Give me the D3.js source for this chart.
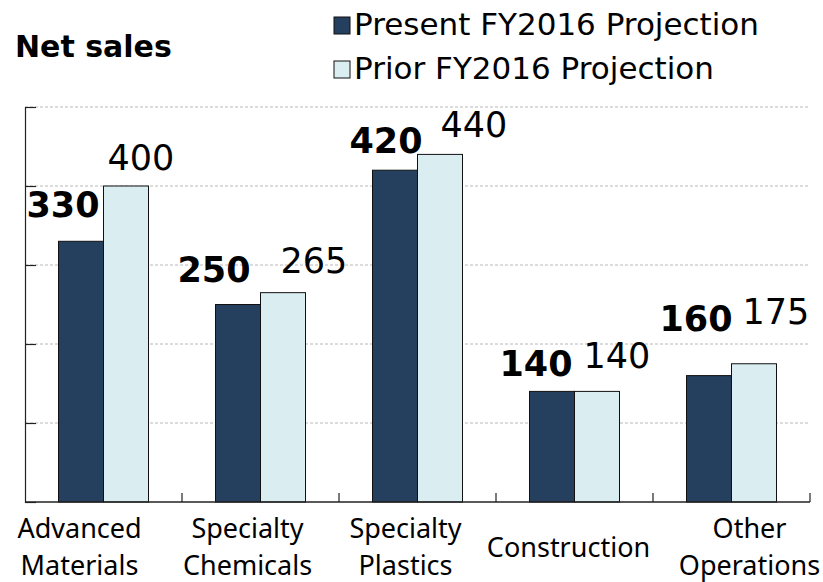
<!DOCTYPE html>
<html>
<head>
<meta charset="utf-8">
<script src="https://cdn.jsdelivr.net/npm/d3@7"></script>
<style>
  body { margin: 0; background: #fff; }
  svg { display: block; }
</style>
</head>
<body>
<svg id="chart" width="823" height="582"></svg>
<script>
// Data
const categories = [
  ['Advanced', 'Materials'],
  ['Specialty', 'Chemicals'],
  ['Specialty', 'Plastics'],
  ['Construction'],
  ['Other', 'Operations']
];
const presentValues = [330, 250, 420, 140, 160];
const priorValues = [400, 265, 440, 140, 175];
const seriesNames = ['Present FY2016 Projection', 'Prior FY2016 Projection'];
const yTicks = [0, 100, 200, 300, 400, 500];

// layout tweaks (label nudges as in the original slide)
const presentLabelShift = [[-4, -24], [-10, -23], [5, -17], [-2, -15], [1, -45]];
const priorLabelShift = [[4, -16], [20, -20], [23, -17], [9, -23], [11, -40]];
const catLabelShift = [-24, -13, -12, -6, 18];

const DARK = '#253f5f', LIGHT = '#daeef2';
const BAR_W = 45;

let svg = d3.select('#chart');

let xScale = d3.scaleBand()
  .domain(d3.range(categories.length))
  .range([25, 810])
  .padding(0);
let yScale = d3.scaleLinear()
  .domain([0, 500])
  .range([502, 107]);

// gridlines
svg.append('g')
  .selectAll('line')
  .data(yTicks.slice(1))
  .enter()
  .append('line')
  .attr('x1', 25)
  .attr('x2', 810)
  .attr('y1', d => yScale(d))
  .attr('y2', d => yScale(d))
  .attr('stroke', '#b8b8b8')
  .attr('stroke-width', 1)
  .attr('stroke-dasharray', '3,2');

// y axis (no labels, inner ticks)
svg.append('g')
  .attr('transform', 'translate(25,0)')
  .call(d3.axisRight(yScale).tickValues(yTicks).tickSize(11).tickFormat(''))
  .call(g => g.select('.domain').attr('stroke', '#222').attr('stroke-width', 1.2))
  .call(g => g.selectAll('.tick line').attr('stroke', '#222').attr('stroke-width', 1.2));

// bars
const cx = i => xScale(i) + xScale.bandwidth() / 2;

svg.append('g')
  .selectAll('rect')
  .data(presentValues)
  .enter()
  .append('rect')
  .attr('x', (d, i) => cx(i) - BAR_W)
  .attr('y', d => yScale(d))
  .attr('width', BAR_W)
  .attr('height', d => yScale(0) - yScale(d))
  .attr('fill', DARK)
  .attr('stroke', '#111')
  .attr('stroke-width', 1);

svg.append('g')
  .selectAll('rect')
  .data(priorValues)
  .enter()
  .append('rect')
  .attr('x', (d, i) => cx(i))
  .attr('y', d => yScale(d))
  .attr('width', BAR_W)
  .attr('height', d => yScale(0) - yScale(d))
  .attr('fill', LIGHT)
  .attr('stroke', '#111')
  .attr('stroke-width', 1);

// x axis (ticks between categories, pointing up)
svg.append('line')
  .attr('x1', 25).attr('x2', 810)
  .attr('y1', yScale(0)).attr('y2', yScale(0))
  .attr('stroke', '#222').attr('stroke-width', 1.5);
svg.append('g')
  .selectAll('line')
  .data(d3.range(1, categories.length + 1))
  .enter()
  .append('line')
  .attr('x1', i => xScale.step() * i + 25)
  .attr('x2', i => xScale.step() * i + 25)
  .attr('y1', yScale(0))
  .attr('y2', yScale(0) - 9)
  .attr('stroke', '#222')
  .attr('stroke-width', 1.2);

// value labels
svg.append('g')
  .selectAll('text')
  .data(presentValues)
  .enter()
  .append('text')
  .attr('x', (d, i) => cx(i) + presentLabelShift[i][0])
  .attr('y', (d, i) => yScale(d) + presentLabelShift[i][1])
  .attr('text-anchor', 'end')
  .attr('font-family', 'DejaVu Sans, Verdana, sans-serif')
  .attr('font-weight', 'bold')
  .attr('font-size', 35)
  .attr('fill', '#000')
  .text(d => d);

svg.append('g')
  .selectAll('text')
  .data(priorValues)
  .enter()
  .append('text')
  .attr('x', (d, i) => cx(i) + priorLabelShift[i][0])
  .attr('y', (d, i) => yScale(d) + priorLabelShift[i][1])
  .attr('text-anchor', 'start')
  .attr('font-family', 'DejaVu Sans, Verdana, sans-serif')
  .attr('font-size', 35)
  .attr('fill', '#000')
  .text(d => d);

// category labels
let catText = svg.append('g')
  .selectAll('text')
  .data(categories)
  .enter()
  .append('text')
  .attr('text-anchor', 'middle')
  .attr('font-family', 'Noto Sans, sans-serif')
  .attr('font-size', 27)
  .attr('fill', '#000')
  .attr('transform', (d, i) => `translate(${cx(i) + catLabelShift[i]},0)`);

catText.selectAll('tspan')
  .data(d => d.length === 1 ? d.map(t => [t, 557]) : d.map((t, j) => [t, 538 + j * 37]))
  .enter()
  .append('tspan')
  .attr('x', 0)
  .attr('y', d => d[1])
  .text(d => d[0]);

// title
svg.append('text')
  .attr('x', 15)
  .attr('y', 57)
  .attr('font-family', 'DejaVu Sans, Verdana, sans-serif')
  .attr('font-weight', 'bold')
  .attr('font-size', 30)
  .text('Net sales');

// legend
let legend = svg.append('g')
  .selectAll('g')
  .data(seriesNames)
  .enter()
  .append('g')
  .attr('transform', (d, i) => `translate(334,${17 + i * 44})`);

legend.append('rect')
  .attr('width', 16)
  .attr('height', 17)
  .attr('fill', (d, i) => i === 0 ? DARK : LIGHT)
  .attr('stroke', '#111')
  .attr('stroke-width', 1);

legend.append('text')
  .attr('x', 20)
  .attr('y', 18)
  .attr('font-family', 'DejaVu Sans, Verdana, sans-serif')
  .attr('font-size', 31)
  .text(d => d);
</script>
</body>
</html>
